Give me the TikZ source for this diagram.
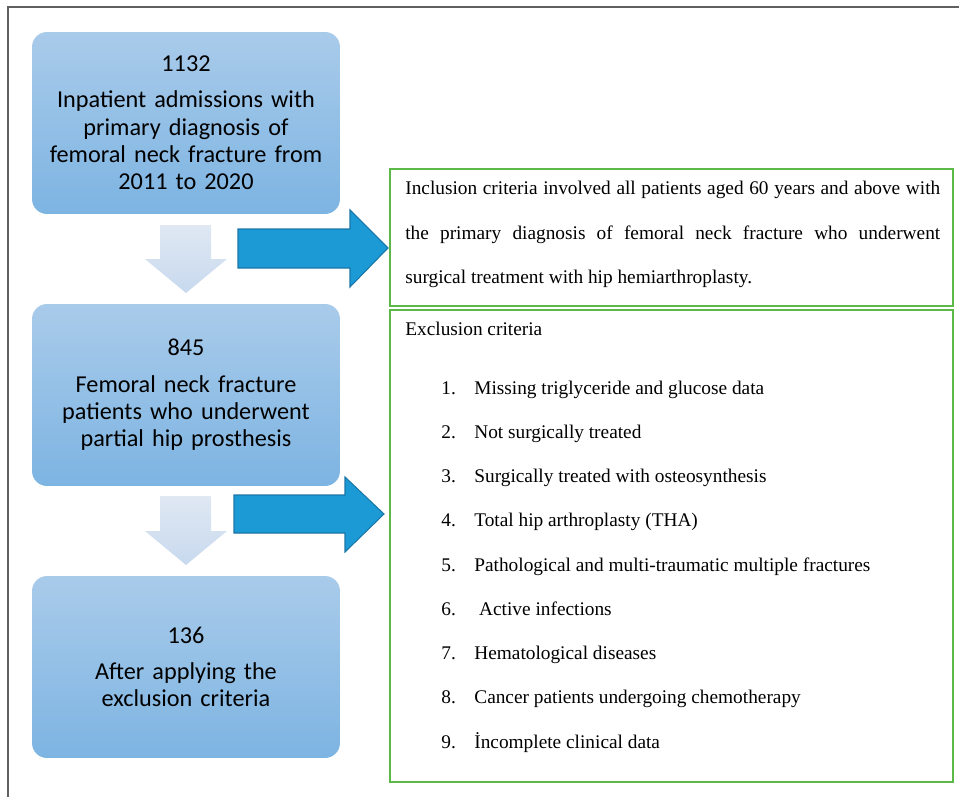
\documentclass[tikz,border=0pt]{standalone}
\usepackage{fontspec}
\setmainfont{Liberation Serif}
\newfontfamily\boxfont{Carlito}
\usetikzlibrary{positioning}

\definecolor{boxtop}{HTML}{A9CBEA}
\definecolor{boxbot}{HTML}{7DB4E2}
\definecolor{arrowfill}{HTML}{1B9AD6}
\definecolor{arrowline}{HTML}{1A76A6}
\definecolor{downtop}{HTML}{DFE8F3}
\definecolor{downbot}{HTML}{C8D9EE}
\definecolor{critgreen}{HTML}{5CB847}

\tikzset{
  stage/.style={rounded corners=0.3cm, top color=boxtop, bottom color=boxbot,
    minimum width=6.16cm, minimum height=3.64cm, inner xsep=0pt, text width=5.8cm,
    align=center, font=\boxfont\fontsize{13.8}{15.6}\selectfont},
  crit/.style={draw=critgreen, line width=1.1pt},
  rightarr/.style={fill=arrowfill, draw=arrowline, line width=0.6pt},
  downarr/.style={top color=downtop, bottom color=downbot},
  item/.style={anchor=base west, inner sep=0pt, font=\fontsize{11}{13}\selectfont}
}

\begin{document}
\begin{tikzpicture}[x=0.02cm, y=-0.02cm]
  \useasboundingbox (0,0) rectangle (959,797);

  % outer frame
  \draw[gray!75!black, line width=1.1pt] (8,797) -- (8,7) -- (959,7);

  % the three counts
  \node[stage] (admit) at (186,123) {1132\\[5pt] Inpatient admissions with\\ primary diagnosis of\\ femoral neck fracture from\\ 2011 to 2020};
  \node[stage] (hemi) at (186,395) {845\\[5pt] Femoral neck fracture\\ patients who underwent\\ partial hip prosthesis};
  \node[stage] (final) at (186,667) {136\\[5pt] After applying the\\ exclusion criteria};

  % down arrows
  \path[downarr] (160,225) -- (211,225) -- (211,259) -- (227,259) -- (186,293) -- (145,259) -- (160,259) -- cycle;
  \path[downarr] (160,496) -- (211,496) -- (211,531) -- (227,531) -- (186,565) -- (145,531) -- (160,531) -- cycle;

  % right arrows
  \draw[rightarr] (238,229) -- (350,229) -- (350,210) -- (388,248) -- (350,287) -- (350,268) -- (238,268) -- cycle;
  \draw[rightarr] (234,495) -- (345,495) -- (345,477) -- (384,514) -- (345,552) -- (345,533) -- (234,533) -- cycle;

  % inclusion box
  \draw[crit] (390,169) rectangle (953,306);
  \node[anchor=north west, inner sep=0pt, text width=10.7cm, align=justify,
        font=\fontsize{11}{25.2}\selectfont] (incl) at (405,181)
    {Inclusion criteria involved all patients aged 60 years and above with\linebreak
     the primary diagnosis of femoral neck fracture who underwent\linebreak
     surgical treatment with hip hemiarthroplasty.};

  % exclusion box
  \draw[crit] (390,310) rectangle (953,782);
  \node[item] (excl) at (405,335) {Exclusion criteria};
  \foreach \i/\txt in {1/Missing triglyceride and glucose data,
                       2/Not surgically treated,
                       3/Surgically treated with osteosynthesis,
                       4/Total hip arthroplasty (THA),
                       5/Pathological and multi-traumatic multiple fractures,
                       6/\ Active infections,
                       7/Hematological diseases,
                       8/Cancer patients undergoing chemotherapy,
                       9/İncomplete clinical data} {
    \node[item] (num\i) at (441,{394+44.25*(\i-1)}) {\i.};
    \node[item] (ex\i) at (474,{394+44.25*(\i-1)}) {\txt};
  }
\end{tikzpicture}
\end{document}
